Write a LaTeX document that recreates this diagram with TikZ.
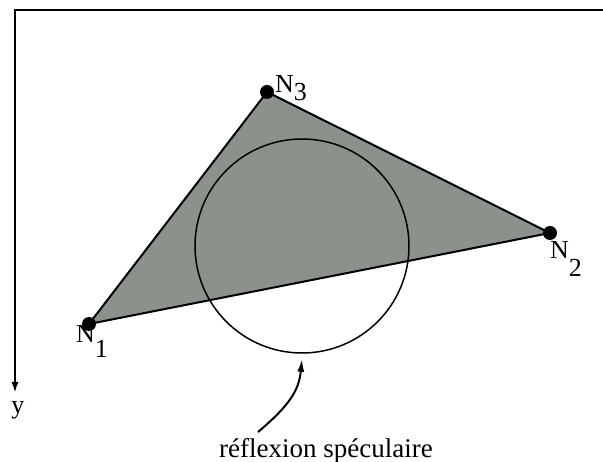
\documentclass[tikz,border=0pt]{standalone}
\usepackage{fontspec}
\setmainfont{Liberation Serif}
\usetikzlibrary{arrows.meta}
\definecolor{trigray}{RGB}{139,145,139}

\begin{document}
\begin{tikzpicture}[x=1pt,y=-1pt,
  dot/.style={circle,fill,inner sep=0pt,minimum size=14pt},
  lab/.style={inner sep=0pt,anchor=base west,font=\fontsize{26}{26}\selectfont},
  edge/.style={line width=2pt,line join=round}]
\useasboundingbox (0,0) rectangle (603,462);
% frame and y axis
\draw[line width=2pt,-{Latex[length=11pt,width=7pt]}] (603,10) -- (15,10) -- (15,393)
  node[below=8pt,xshift=3pt,inner sep=0pt,font=\fontsize{26}{26}\selectfont] (ylab) {y};
% triangle
\coordinate (p1) at (89,324);
\coordinate (p2) at (550,233);
\coordinate (p3) at (267,92);
\fill[trigray] (p1) -- (p2) -- (p3) -- cycle;
\draw[edge] (p1) -- (p2) -- (p3) -- cycle;
\node[draw,circle,line width=1.5pt,minimum size=214pt,inner sep=0pt] (spec) at (302,246) {};
\node[dot] (n1) at (p1) {};
\node[dot] (n2) at (p2) {};
\node[dot] (n3) at (p3) {};
\node[lab] (l1) at (76,343) {N\raisebox{-15pt}{1}};
\node[lab] (l2) at (550,259) {N\raisebox{-18pt}{2}};
\node[lab] (l3) at (275,93) {N\raisebox{-8pt}{3}};
% specular reflection
\node[inner sep=0pt,anchor=base,font=\fontsize{27}{27}\selectfont] (refl) at (326,457) {réflexion spéculaire};
\coordinate (tail) at (258,432);
\draw[line width=2pt,-{Latex[length=13pt,width=7pt]}] (tail) .. controls (290,405) and (299,390) .. ([yshift=-5pt]spec.south);
\end{tikzpicture}
\end{document}
